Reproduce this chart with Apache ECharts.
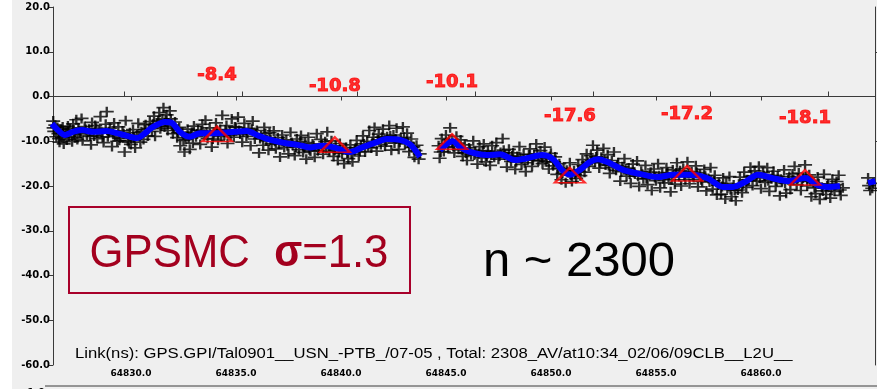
<!DOCTYPE html>
<html>
<head>
<meta charset="utf-8">
<script src="https://cdn.jsdelivr.net/npm/echarts@6/dist/echarts.min.js"></script>
<style>
  html, body {margin: 0; padding: 0; background: #efefef;}
  #chart {width: 877px; height: 389px;}
</style>
</head>
<body>
<div id="chart"></div>
<script>
// MJD tick labels along the bottom axis
const xTicks = [64830, 64835, 64840, 64845, 64850, 64855, 64860];
// ticks of the frame above (top edge) and at the right edge
const topTicks = [64829.7, 64834.1, 64835.3, 64840.8, 64846.4, 64852.0, 64857.6, 64863.2];
const rightTicks = [10, -10];

const rawPoints = [
  [64826.3,-5.5],[64826.35,-7.8],[64826.4,-6.4],[64826.45,-9.0],[64826.5,-6.9],[64826.55,-8.3],[64826.6,-10.2],[64826.65,-7.4],[64826.7,-9.1],[64826.75,-6.8],[64826.8,-10.6],[64826.9,-8.0],[64826.95,-9.7],
  [64827.0,-6.6],[64827.05,-8.9],[64827.1,-7.2],[64827.2,-10.1],[64827.25,-6.1],[64827.3,-8.4],[64827.4,-5.2],[64827.45,-9.6],[64827.5,-7.0],[64827.6,-8.2],[64827.65,-4.9],[64827.7,-9.9],[64827.8,-6.7],[64827.9,-8.6],
  [64828.0,-7.3],[64828.1,-10.8],[64828.15,-5.8],[64828.25,-8.8],[64828.3,-6.5],[64828.4,-9.4],[64828.5,-7.6],[64828.55,-4.5],[64828.6,-8.0],[64828.7,-10.3],[64828.8,-6.2],[64828.85,-3.4],[64828.9,-9.0],
  [64829.0,-7.1],[64829.1,-11.2],[64829.2,-5.9],[64829.25,-8.7],[64829.35,-10.0],[64829.4,-6.8],[64829.5,-9.3],[64829.6,-7.7],[64829.7,-12.4],[64829.75,-5.4],[64829.85,-9.9],[64829.95,-8.1],
  [64830.0,-10.7],[64830.1,-7.4],[64830.2,-11.5],[64830.3,-8.6],[64830.35,-6.0],[64830.45,-10.2],[64830.5,-7.9],[64830.6,-9.6],[64830.7,-6.3],[64830.8,-8.8],[64830.9,-5.6],
  [64831.0,-7.8],[64831.1,-4.4],[64831.15,-8.9],[64831.25,-6.1],[64831.35,-3.6],[64831.4,-7.2],[64831.5,-5.0],[64831.55,-2.5],[64831.6,-6.8],[64831.7,-4.1],[64831.75,-7.6],[64831.85,-3.2],[64831.95,-6.4],
  [64832.0,-8.3],[64832.1,-5.7],[64832.2,-9.2],[64832.3,-6.9],[64832.35,-11.0],[64832.45,-8.0],[64832.55,-12.4],[64832.6,-9.6],[64832.7,-7.3],[64832.8,-11.8],[64832.85,-8.5],[64832.95,-10.4],
  [64833.0,-6.6],[64833.1,-9.0],[64833.2,-7.5],[64833.3,-10.7],[64833.4,-6.2],[64833.5,-8.7],[64833.55,-5.3],[64833.65,-9.4],[64833.75,-7.0],[64833.85,-11.3],[64833.95,-8.1],
  [64834.05,-5.9],[64834.15,-9.8],[64834.25,-7.4],[64834.35,-4.2],[64834.45,-8.6],[64834.55,-6.5],[64834.6,-10.5],[64834.7,-7.8],[64834.8,-5.0],[64834.9,-9.1],
  [64835.0,-6.9],[64835.1,-4.6],[64835.2,-8.4],[64835.3,-10.2],[64835.4,-6.0],[64835.5,-8.9],[64835.6,-7.1],[64835.7,-11.0],[64835.8,-5.5],[64835.9,-9.5],
  [64836.0,-7.6],[64836.1,-12.6],[64836.2,-8.8],[64836.3,-10.9],[64836.35,-6.9],[64836.45,-9.9],[64836.55,-12.0],[64836.6,-8.1],[64836.7,-10.6],[64836.8,-7.7],[64836.9,-11.7],
  [64837.0,-9.2],[64837.1,-13.5],[64837.2,-8.6],[64837.3,-11.4],[64837.4,-9.7],[64837.5,-12.8],[64837.6,-8.0],[64837.7,-10.9],[64837.8,-13.2],[64837.9,-9.5],
  [64838.0,-11.9],[64838.1,-8.7],[64838.2,-12.5],[64838.3,-10.3],[64838.35,-14.0],[64838.45,-9.1],[64838.55,-12.2],[64838.65,-10.6],[64838.75,-13.6],[64838.85,-8.3],[64838.95,-11.6],
  [64839.05,-9.6],[64839.15,-12.9],[64839.25,-10.1],[64839.35,-7.9],[64839.45,-12.3],[64839.55,-9.9],[64839.65,-13.4],[64839.75,-11.0],[64839.85,-14.3],[64839.95,-10.5],
  [64840.05,-12.7],[64840.15,-15.0],[64840.25,-11.4],[64840.35,-13.9],[64840.45,-10.8],[64840.55,-14.6],[64840.65,-12.1],[64840.75,-9.8],[64840.85,-13.3],[64840.95,-11.0],
  [64841.05,-8.8],[64841.15,-12.4],[64841.25,-10.0],[64841.35,-7.6],[64841.45,-11.5],[64841.55,-9.1],[64841.6,-6.9],[64841.7,-12.2],[64841.8,-8.4],[64841.9,-10.7],
  [64842.0,-7.3],[64842.1,-11.1],[64842.2,-9.0],[64842.3,-6.5],[64842.4,-12.0],[64842.5,-8.6],[64842.55,-10.4],[64842.65,-7.1],[64842.75,-11.8],[64842.85,-9.3],[64842.95,-6.8],
  [64843.05,-10.6],[64843.15,-8.2],[64843.25,-12.3],[64843.35,-9.5],[64843.45,-11.2],[64843.5,-13.6],[64843.6,-10.9],[64843.7,-14.0],[64843.75,-12.8],
  [64844.65,-11.0],[64844.7,-13.8],[64844.8,-9.4],[64844.9,-12.3],[64845.0,-8.6],[64845.1,-11.4],[64845.2,-7.0],[64845.3,-10.2],[64845.4,-12.6],[64845.5,-8.9],[64845.6,-11.8],[64845.7,-9.7],[64845.8,-13.4],[64845.9,-10.8],
  [64846.0,-14.3],[64846.1,-11.5],[64846.2,-13.0],[64846.3,-9.9],[64846.4,-12.4],[64846.5,-15.1],[64846.6,-11.2],[64846.7,-13.7],[64846.8,-10.6],[64846.9,-14.6],
  [64847.0,-12.2],[64847.1,-15.4],[64847.2,-11.0],[64847.3,-13.6],[64847.4,-10.3],[64847.5,-14.0],[64847.6,-12.5],[64847.7,-9.4],[64847.8,-13.1],[64847.9,-15.8],
  [64848.0,-11.8],[64848.1,-14.5],[64848.2,-12.6],[64848.3,-16.3],[64848.4,-13.4],[64848.5,-11.2],[64848.6,-15.2],[64848.7,-12.9],[64848.8,-16.8],[64848.9,-14.1],
  [64849.0,-11.7],[64849.1,-15.6],[64849.2,-13.0],[64849.3,-10.6],[64849.4,-14.4],[64849.5,-12.1],[64849.6,-15.0],[64849.7,-11.3],[64849.8,-13.9],[64849.9,-16.2],
  [64850.0,-12.7],[64850.1,-15.5],[64850.2,-13.5],[64850.3,-17.4],[64850.4,-15.0],[64850.5,-18.6],[64850.6,-16.1],[64850.7,-19.3],[64850.8,-17.0],[64850.9,-14.8],
  [64851.0,-19.0],[64851.1,-16.6],[64851.2,-18.3],[64851.3,-15.2],[64851.4,-17.7],[64851.5,-14.1],[64851.6,-16.9],[64851.7,-12.8],[64851.8,-15.6],[64851.9,-13.2],
  [64852.0,-10.9],[64852.1,-14.7],[64852.2,-12.0],[64852.3,-16.0],[64852.4,-13.6],[64852.5,-11.6],[64852.6,-15.3],[64852.7,-13.0],[64852.8,-17.2],[64852.9,-14.3],
  [64853.0,-12.4],[64853.1,-16.5],[64853.2,-14.8],[64853.3,-18.9],[64853.4,-15.7],[64853.5,-13.9],[64853.6,-17.8],[64853.7,-16.0],[64853.8,-19.4],[64853.9,-15.1],
  [64854.0,-17.3],[64854.1,-14.4],[64854.2,-20.1],[64854.3,-16.7],[64854.4,-18.4],[64854.5,-15.4],[64854.6,-19.7],[64854.7,-17.5],[64854.8,-21.0],[64854.9,-16.2],
  [64855.0,-18.8],[64855.1,-15.0],[64855.2,-20.4],[64855.3,-17.1],[64855.4,-19.3],[64855.5,-15.9],[64855.6,-18.0],[64855.7,-21.3],[64855.8,-16.4],[64855.9,-19.6],
  [64856.0,-14.8],[64856.1,-17.9],[64856.2,-20.0],[64856.3,-16.1],[64856.4,-18.6],[64856.5,-14.6],[64856.6,-19.5],[64856.7,-16.8],[64856.8,-18.1],[64856.9,-15.5],
  [64857.0,-20.2],[64857.1,-17.4],[64857.2,-19.0],[64857.3,-16.3],[64857.4,-21.1],[64857.5,-18.3],[64857.6,-15.9],[64857.7,-20.7],[64857.8,-17.6],[64857.9,-22.0],
  [64858.0,-19.4],[64858.1,-21.8],[64858.2,-18.2],[64858.3,-22.9],[64858.4,-20.5],[64858.5,-17.9],[64858.6,-22.4],[64858.7,-19.8],[64858.8,-23.3],[64858.9,-20.9],
  [64859.0,-18.0],[64859.1,-21.5],[64859.2,-16.9],[64859.3,-20.3],[64859.4,-18.7],[64859.5,-15.8],[64859.6,-19.9],[64859.7,-16.6],[64859.8,-18.9],[64859.9,-15.6],
  [64860.0,-20.6],[64860.1,-17.0],[64860.2,-19.2],[64860.3,-15.9],[64860.4,-21.2],[64860.5,-18.4],[64860.6,-16.7],[64860.7,-20.1],[64860.8,-17.8],[64860.9,-22.2],
  [64861.0,-19.0],[64861.1,-16.4],[64861.2,-21.6],[64861.3,-18.6],[64861.4,-20.8],[64861.5,-17.3],[64861.6,-15.6],[64861.7,-19.7],[64861.8,-17.1],[64861.9,-21.0],
  [64862.0,-18.2],[64862.1,-15.3],[64862.2,-20.0],[64862.3,-17.5],[64862.4,-22.4],[64862.5,-19.3],[64862.6,-21.7],[64862.7,-18.0],[64862.8,-23.0],[64862.9,-20.3],
  [64863.0,-17.4],[64863.1,-21.9],[64863.2,-19.6],[64863.3,-22.7],[64863.4,-18.5],[64863.5,-21.2],[64863.6,-19.0],[64863.7,-17.6],[64863.8,-22.1],[64863.9,-20.4],
  [64865.1,-18.2],[64865.2,-21.0],[64865.35,-19.4]
];

// extra raw measurements filling the dense core of the band
const rawPointsCore = [
  [64826.32,-7.0],[64826.58,-9.4],[64826.78,-8.1],[64827.02,-7.9],[64827.34,-9.2],[64827.55,-8.0],[64827.85,-7.4],[64828.05,-8.9],[64828.35,-7.1],[64828.65,-9.1],
  [64828.95,-7.9],[64829.15,-8.4],[64829.45,-9.8],[64829.65,-8.3],[64829.9,-10.2],[64830.15,-9.1],[64830.4,-8.9],[64830.65,-7.4],[64830.85,-7.2],[64831.05,-6.2],
  [64831.3,-5.4],[64831.45,-6.6],[64831.65,-5.3],[64831.9,-5.0],[64832.05,-7.1],[64832.25,-8.1],[64832.5,-9.8],[64832.75,-9.2],[64832.9,-8.0],[64833.15,-8.4],
  [64833.35,-7.7],[64833.6,-8.0],[64833.9,-9.5],[64834.1,-7.6],[64834.3,-8.9],[64834.5,-7.5],[64834.75,-8.7],[64834.95,-6.8],[64835.15,-7.6],[64835.35,-7.9],
  [64835.55,-8.2],[64835.75,-7.3],[64835.95,-8.4],[64836.15,-9.4],[64836.4,-8.3],[64836.65,-9.7],[64836.85,-10.0],[64837.05,-10.6],[64837.25,-10.0],[64837.45,-11.0],
  [64837.65,-10.3],[64837.85,-11.3],[64838.05,-10.0],[64838.25,-11.4],[64838.5,-11.9],[64838.7,-11.0],[64838.9,-12.1],[64839.1,-10.8],[64839.3,-11.6],[64839.5,-11.0],
  [64839.7,-12.0],[64839.9,-12.5],[64840.1,-11.9],[64840.3,-12.6],[64840.5,-12.9],[64840.7,-11.5],[64840.9,-12.3],[64841.1,-10.6],[64841.3,-11.3],[64841.5,-10.3],
  [64841.75,-9.7],[64841.95,-9.1],[64842.15,-10.1],[64842.35,-8.8],[64842.6,-9.5],[64842.8,-10.2],[64843.0,-9.1],[64843.2,-10.4],[64843.4,-11.4],[64843.55,-12.1],
  [64844.75,-12.4],[64844.95,-10.6],[64845.15,-9.7],[64845.35,-11.2],[64845.55,-10.4],[64845.75,-11.9],[64845.95,-12.6],[64846.15,-12.0],[64846.35,-13.1],[64846.55,-12.8],
  [64846.75,-12.1],[64846.95,-13.3],[64847.15,-13.1],[64847.35,-12.3],[64847.55,-13.3],[64847.75,-12.0],[64847.95,-13.6],[64848.15,-13.3],[64848.35,-14.6],[64848.55,-13.6],
  [64848.75,-14.8],[64848.95,-13.0],[64849.15,-14.2],[64849.35,-12.8],[64849.55,-13.6],[64849.75,-14.6],[64849.95,-13.4],[64850.15,-14.6],[64850.35,-16.0],[64850.55,-17.2],
  [64850.75,-16.5],[64850.95,-17.6],[64851.15,-17.4],[64851.35,-16.8],[64851.55,-15.5],[64851.75,-14.7],[64851.95,-14.3],[64852.15,-13.5],[64852.35,-14.8],[64852.55,-14.2],
  [64852.75,-15.4],[64852.95,-15.9],[64853.15,-15.4],[64853.35,-16.8],[64853.55,-16.2],[64853.75,-17.3],[64853.95,-17.0],[64854.15,-17.8],[64854.35,-17.4],[64854.55,-18.3],
  [64854.75,-16.9],[64854.95,-18.1],[64855.15,-17.7],[64855.35,-18.4],[64855.55,-17.0],[64855.75,-18.6],[64855.95,-17.1],[64856.15,-16.6],[64856.35,-17.7],[64856.55,-17.2],
  [64856.75,-17.9],[64856.95,-17.0],[64857.15,-18.6],[64857.35,-17.8],[64857.55,-19.1],[64857.75,-18.8],[64857.95,-19.8],[64858.15,-20.1],[64858.35,-19.4],[64858.55,-20.8],
  [64858.75,-21.0],[64858.95,-19.6],[64859.15,-19.5],[64859.35,-18.6],[64859.55,-17.8],[64859.75,-17.9],[64859.95,-18.2],[64860.15,-17.7],[64860.35,-18.8],[64860.55,-17.6],
  [64860.75,-19.0],[64860.95,-18.5],[64861.15,-19.4],[64861.35,-17.9],[64861.55,-18.7],[64861.75,-18.3],[64861.95,-19.0],[64862.15,-17.9],[64862.35,-18.8],[64862.55,-20.4],
  [64862.75,-19.5],[64862.95,-21.1],[64863.15,-20.0],[64863.35,-20.6],[64863.55,-19.7],[64863.75,-20.9],[64865.15,-19.9],[64865.3,-20.5]
];

// smoothed curve (blue), '-' marks the data gaps
const smoothCurve = [
  [64826.24,-6.1],[64826.48,-7.3],[64826.86,-8.6],[64827.24,-7.9],[64827.67,-7.5],[64828.19,-7.9],[64828.86,-7.7],[64829.33,-8.2],
  [64829.81,-8.8],[64830.29,-9.3],[64830.67,-8.2],[64831.05,-6.8],[64831.62,-5.7],[64831.95,-5.9],[64832.33,-7.9],[64832.81,-9.0],
  [64833.29,-8.2],[64834.10,-8.2],[64834.95,-7.9],[64835.52,-7.7],[64836.0,-8.6],[64836.52,-9.5],[64837.33,-10.4],[64837.95,-10.8],
  [64838.52,-11.4],[64839.10,-11.0],[64839.62,-11.3],[64840.43,-12.4],[64841.05,-11.3],[64841.71,-10.2],[64842.19,-9.5],[64842.81,-9.7],
  [64843.29,-10.7],[64843.62,-12.5],[64843.76,-13.5],
  [64844.2,'-'],
  [64844.71,-12.0],[64845.33,-10.0],[64845.67,-11.3],[64846.14,-12.4],[64846.95,-13.1],[64847.57,-12.9],[64848.29,-14.2],[64848.86,-13.8],
  [64849.57,-13.1],[64850.10,-14.0],[64850.52,-16.4],[64850.90,-17.5],[64851.38,-16.4],[64851.86,-14.6],[64852.24,-14.0],[64852.81,-14.9],
  [64853.43,-16.4],[64854.24,-17.3],[64855.05,-18.0],[64855.81,-17.5],[64856.62,-17.5],[64857.43,-18.2],[64858.19,-20.2],[64858.67,-20.2],
  [64859.24,-19.1],[64859.86,-17.5],[64860.52,-18.2],[64861.29,-18.9],[64862.10,-18.2],[64862.71,-19.8],[64863.19,-20.2],[64863.76,-20.0],
  [64864.5,'-'],
  [64865.10,-19.3],[64865.45,-18.9]
];

// averaged values marked with red triangles
const avgDates = [64834.10, 64839.71, 64845.29, 64850.90, 64856.48, 64862.10];
const avgValues = [-8.4, -10.8, -10.1, -17.6, -17.2, -18.1];

const chart = echarts.init(document.getElementById('chart'), null, {renderer: 'canvas'});

const axisColor = '#3a3a3a';
const crossStyle = {color: 'rgba(0,0,0,0)', borderColor: '#000', borderWidth: 2};

const option = {
  backgroundColor: '#efefef',
  animation: false,
  grid: {left: 53, right: 2, top: 7, bottom: 24, containLabel: false},
  xAxis: [
    {
      type: 'value',
      position: 'bottom',
      min: 64826.29,
      max: 64865.43,
      axisLine: {show: true, lineStyle: {color: axisColor, width: 1}},
      axisTick: {show: true, customValues: xTicks, length: 4, lineStyle: {color: axisColor}},
      axisLabel: {
        customValues: xTicks,
        formatter: v => v.toFixed(1),
        margin: 4,
        fontFamily: 'DejaVu Sans',
        fontWeight: 'bold',
        fontSize: 9,
        color: '#000'
      },
      splitLine: {show: false}
    },
    {
      type: 'value',
      position: 'top',
      min: 64826.29,
      max: 64865.43,
      axisLine: {show: true, lineStyle: {color: axisColor, width: 1}},
      axisTick: {show: true, customValues: topTicks, length: 5, lineStyle: {color: axisColor}},
      axisLabel: {show: false},
      splitLine: {show: false}
    }
  ],
  yAxis: [
    {
      type: 'value',
      position: 'left',
      min: -60,
      max: 20,
      interval: 10,
      axisLine: {show: true, lineStyle: {color: axisColor, width: 1}},
      axisTick: {show: true, length: 5, lineStyle: {color: axisColor}},
      axisLabel: {
        formatter: v => v.toFixed(1),
        margin: 3,
        fontFamily: 'DejaVu Sans',
        fontWeight: 'bold',
        fontSize: 10,
        color: '#000'
      },
      splitLine: {show: false}
    },
    {
      type: 'value',
      position: 'right',
      min: -60,
      max: 20,
      axisLine: {show: true, lineStyle: {color: axisColor, width: 1}},
      axisTick: {show: true, customValues: rightTicks, length: 3, lineStyle: {color: axisColor}},
      axisLabel: {show: false},
      splitLine: {show: false}
    }
  ],
  series: [
    {
      name: 'raw',
      type: 'scatter',
      data: rawPoints,
      symbol: 'path://M0 5L10 5M5 0L5 10',
      symbolSize: [14, 10],
      itemStyle: crossStyle,
      z: 2
    },
    {
      name: 'rawCore',
      type: 'scatter',
      data: rawPointsCore,
      symbol: 'path://M0 5L10 5M5 0L5 10',
      symbolSize: [14, 10],
      itemStyle: crossStyle,
      z: 2
    },
    {
      name: 'smooth',
      type: 'line',
      data: smoothCurve,
      showSymbol: false,
      smooth: 0.3,
      connectNulls: false,
      lineStyle: {color: '#0000ff', width: 6},
      z: 3
    },
    {
      name: 'avg',
      type: 'scatter',
      data: avgDates.map((d, i) => [d, avgValues[i]]),
      symbol: 'triangle',
      symbolSize: [30, 15],
      itemStyle: {color: 'rgba(0,0,0,0)', borderColor: '#ff0000', borderWidth: 2.2},
      label: {
        show: true,
        position: 'inside',
        offset: [0, -59],
        formatter: p => p.value[1].toFixed(1),
        fontFamily: 'DejaVu Sans',
        fontWeight: 'bold',
        fontSize: 18,
        color: '#ff0000',
        textBorderColor: '#ff0000',
        textBorderWidth: 1
      },
      z: 4
    }
  ],
  graphic: [
    {type: 'rect', left: 0, top: 0, shape: {width: 12, height: 389}, style: {fill: '#ffffff'}, z: 0},
    {type: 'line', shape: {x1: 45, y1: 386, x2: 877, y2: 386}, style: {stroke: axisColor, lineWidth: 1}},
    {type: 'text', x: 45, y: 393, style: {text: '-1.0', align: 'right', verticalAlign: 'middle', font: 'bold 10px "DejaVu Sans"', fill: '#000'}},
    {
      type: 'text', x: 75, y: 354, scaleX: 1.19,
      style: {
        text: 'Link(ns): GPS.GPI/Tal0901__USN_-PTB_/07-05 , Total: 2308_AV/at10:34_02/06/09CLB__L2U__',
        align: 'left', verticalAlign: 'middle',
        font: '14px "Liberation Sans"', fill: '#000'
      }
    },
    {type: 'rect', shape: {x: 69, y: 207, width: 341, height: 86}, style: {fill: 'none', stroke: '#a8002a', lineWidth: 2}, z: 5},
    {
      type: 'text', x: 239, y: 254, scaleX: 0.93, z: 5,
      style: {
        text: '{a|GPSMC  }{b|σ}{a|=1.3}',
        align: 'center', verticalAlign: 'middle',
        rich: {
          a: {fontFamily: 'Liberation Sans', fontSize: 47, fill: '#a3001e', color: '#a3001e'},
          b: {fontFamily: 'Liberation Sans', fontWeight: 'bold', fontSize: 44, fill: '#a3001e', color: '#a3001e'}
        }
      }
    },
    {type: 'text', x: 483, y: 262, z: 5, style: {text: 'n ~ 2300', align: 'left', verticalAlign: 'middle', font: '49px "Liberation Sans"', fill: '#000'}}
  ]
};

chart.setOption(option);
</script>
</body>
</html>
